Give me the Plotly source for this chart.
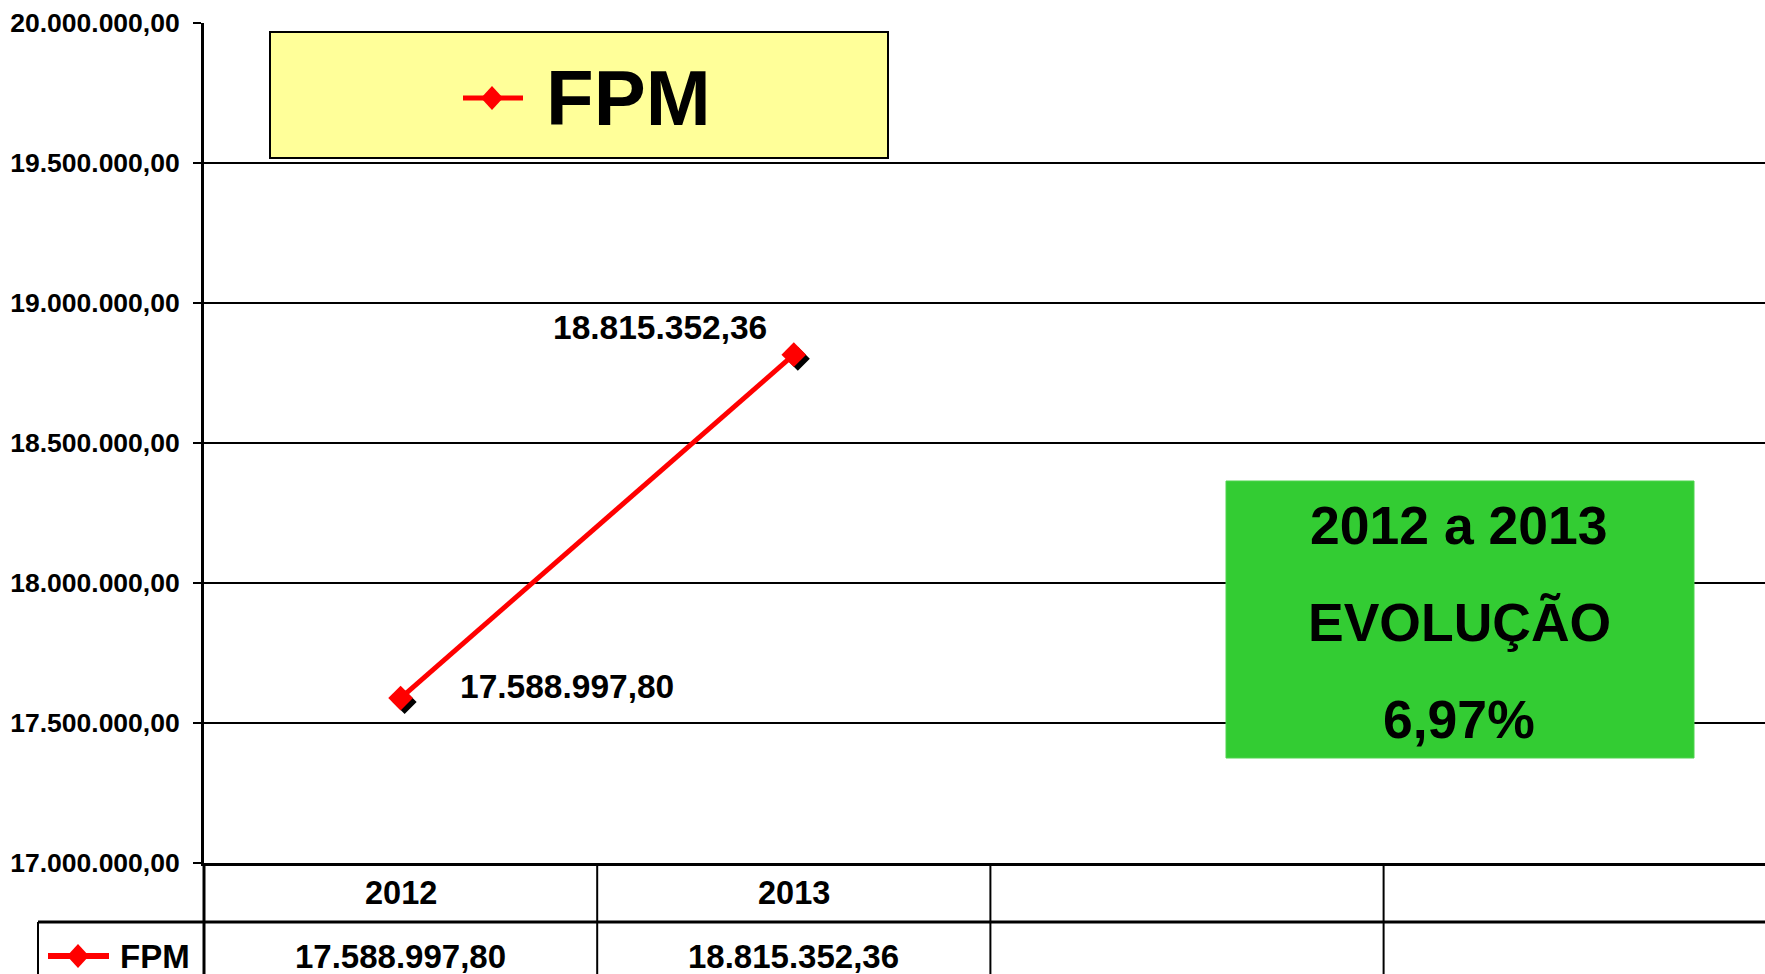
import plotly.graph_objects as go

# ---- data ----
years = ["2012", "2013"]
fpm = [17588997.80, 18815352.36]
series_name = "FPM"
y_ticks = [17000000, 17500000, 18000000, 18500000, 19000000, 19500000, 20000000]
evol_lines = ["2012 a 2013", "EVOLUÇÃO", "6,97%"]
n_cols = 4

# ---- geometry ----
W, H = 1765, 974
L, T, B, R = 204, 23, 111, 0
pw = W - L - R
ph = H - T - B
XMIN, XMAX = -0.5, 3.47


def px(x):
    return (x - L) / pw


def py(y):
    return (H - B - y) / ph


def br(v):
    return f"{v:,.2f}".replace(",", "X").replace(".", ",").replace("X", ".")


FONT = "Liberation Sans, Arial, sans-serif"
RED = "#FF0000"
xs = list(range(len(years)))

fig = go.Figure()

# shadows of markers
shapes = []
for x, y in zip(xs, fpm):
    shapes.append(dict(type="path", xref="x", yref="y", xsizemode="pixel", ysizemode="pixel",
                       xanchor=x, yanchor=y, layer="between",
                       path="M 4 8 L 16 -4 L 4 -16 L -8 -4 Z",
                       fillcolor="black", line=dict(width=0)))

fig.add_trace(go.Scatter(
    x=xs, y=fpm, mode="lines+markers", name=series_name,
    line=dict(color=RED, width=5),
    marker=dict(symbol="diamond", size=19, color=RED, line=dict(width=0)),
    showlegend=False, hoverinfo="skip", cliponaxis=False))

ann = []
# data labels
label_shift = [(166, 12), (-134, 27)]
for (x, y), (dx, dy) in zip(zip(xs, fpm), label_shift):
    ann.append(dict(x=x, y=y, xref="x", yref="y", text=br(y), showarrow=False,
                    xshift=dx, yshift=dy,
                    font=dict(family=FONT, size=33.5, color="black", weight="bold")))

# yellow legend box
shapes.append(dict(type="rect", xref="paper", yref="paper",
                   x0=px(270), x1=px(888), y0=py(158), y1=py(32),
                   fillcolor="#FFFF99", line=dict(color="black", width=2), layer="above"))
shapes.append(dict(type="line", xref="paper", yref="paper",
                   x0=px(463), x1=px(523), y0=py(98), y1=py(98),
                   line=dict(color=RED, width=5), layer="above"))
shapes.append(dict(type="path", xref="paper", yref="paper", xsizemode="pixel", ysizemode="pixel",
                   xanchor=px(492), yanchor=py(98),
                   path="M 0 12 L 11 0 L 0 -12 L -11 0 Z",
                   fillcolor=RED, line=dict(width=0), layer="above"))
ann.append(dict(x=px(544), y=py(98), xref="paper", yref="paper", xanchor="left", yanchor="middle",
                text=series_name, showarrow=False,
                font=dict(family=FONT, size=78, color="black", weight="bold")))

# green evolution box
shapes.append(dict(type="rect", xref="paper", yref="paper",
                   x0=px(1226), x1=px(1694), y0=py(758), y1=py(481),
                   fillcolor="#33CC33", line=dict(color="#4FD44F", width=1), layer="above"))
for txt, yy in zip(evol_lines, [525, 622, 719]):
    ann.append(dict(x=px(1459), y=py(yy), xref="paper", yref="paper", xanchor="center",
                    yanchor="middle", text=txt, showarrow=False,
                    font=dict(family=FONT, size=53.5, color="black", weight="bold")))

# ---- data table ----
col_w = pw / (XMAX - XMIN)


def cx(v):
    return px(L + (v - XMIN) * col_w)


tline = dict(color="black", width=2)
for i in range(n_cols - 1):
    b = cx(i + 0.5)
    shapes.append(dict(type="line", xref="paper", yref="paper", x0=b, x1=b,
                       y0=py(863), y1=py(980), line=tline, layer="above"))
shapes.append(dict(type="line", xref="paper", yref="paper", x0=px(204), x1=px(204),
                   y0=py(863), y1=py(980), line=dict(color="black", width=3), layer="above"))
shapes.append(dict(type="line", xref="paper", yref="paper", x0=px(38), x1=px(38),
                   y0=py(922), y1=py(980), line=tline, layer="above"))
shapes.append(dict(type="line", xref="paper", yref="paper", x0=px(38), x1=1.01,
                   y0=py(922), y1=py(922), line=dict(color="black", width=3), layer="above"))

for x, yr, v in zip(xs, years, fpm):
    ann.append(dict(x=x, y=py(893), xref="x", yref="paper", text=yr, showarrow=False,
                    yanchor="middle",
                    font=dict(family=FONT, size=32.5, color="black", weight="bold")))
    ann.append(dict(x=x, y=py(956), xref="x", yref="paper", text=br(v), showarrow=False,
                    yanchor="middle",
                    font=dict(family=FONT, size=33, color="black", weight="bold")))

# table legend key
shapes.append(dict(type="line", xref="paper", yref="paper",
                   x0=px(48), x1=px(109), y0=py(956), y1=py(956),
                   line=dict(color=RED, width=6), layer="above"))
shapes.append(dict(type="path", xref="paper", yref="paper", xsizemode="pixel", ysizemode="pixel",
                   xanchor=px(78), yanchor=py(956),
                   path="M 0 12 L 11 0 L 0 -12 L -11 0 Z",
                   fillcolor=RED, line=dict(width=0), layer="above"))
ann.append(dict(x=px(118), y=py(956), xref="paper", yref="paper", xanchor="left", yanchor="middle",
                text=series_name, showarrow=False,
                font=dict(family=FONT, size=33, color="black", weight="bold")))

fig.update_layout(
    width=W, height=H,
    margin=dict(l=L, r=R, t=T, b=B, pad=0),
    paper_bgcolor="white", plot_bgcolor="white",
    separators=",.",
    showlegend=False,
    shapes=shapes, annotations=ann,
    xaxis=dict(range=[XMIN, XMAX], showticklabels=False, showgrid=False, zeroline=False,
               showline=True, linecolor="black", linewidth=3, ticks=""),
    yaxis=dict(range=[17000000, 20000000], tickvals=y_ticks, tickformat=",.2f",
               showgrid=True, gridcolor="black", gridwidth=2, zeroline=False,
               showline=True, linecolor="black", linewidth=3,
               ticks="outside", ticklen=8, tickwidth=2, tickcolor="black",
               ticklabelstandoff=8,
               tickfont=dict(family=FONT, size=26.5, color="black", weight="bold")),
)

fig.write_html("out.html", config={"displayModeBar": False},
               post_script="document.body.style.margin='0';document.body.style.overflow='hidden';")
